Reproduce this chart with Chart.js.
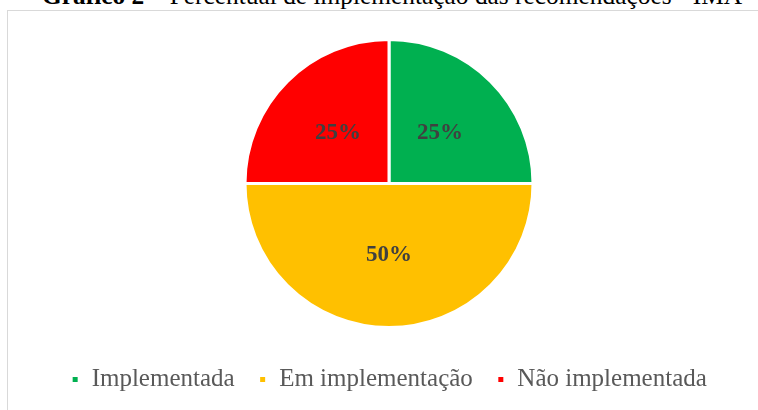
<!DOCTYPE html>
<html>
<head>
<meta charset="utf-8">
<script src="https://cdn.jsdelivr.net/npm/chart.js@4"></script>
<style>
  html, body { margin: 0; padding: 0; background: #fff; overflow: hidden; }
  #wrap { position: relative; width: 758px; height: 410px; }
  #title {
    position: absolute; left: 42px; top: -19px; white-space: nowrap;
    font-family: "Liberation Serif", serif; font-size: 25.4px; color: #000;
  }
  #frame {
    position: absolute; left: 7px; top: 10px; width: 760px; height: 410px;
    border: 1px solid #d9d9d9; box-sizing: border-box;
  }
  #pie-chart { position: absolute; left: 0; top: 0; }
</style>
</head>
<body>
<div id="wrap">
  <div id="title"><b>Gráfico 2</b> – Percentual de implementação das recomendações - IMA</div>
  <div id="frame"></div>
  <canvas id="pie-chart" width="758" height="410"></canvas>
</div>
<script>
const categories = ["Implementada", "Em implementação", "Não implementada"];
const shares = [25, 50, 25];
const sliceColors = ['#00B050', '#FFC000', '#FF0000'];

const pieCanvas = document.getElementById("pie-chart");

// percentage labels in the middle of each slice
const sliceLabels = {
  id: 'sliceLabels',
  afterDatasetsDraw(chart) {
    const ctx = chart.ctx;
    const meta = chart.getDatasetMeta(0);
    ctx.save();
    ctx.font = 'bold 23px "Liberation Serif", serif';
    ctx.fillStyle = '#404040';
    ctx.textAlign = 'center';
    ctx.textBaseline = 'middle';
    meta.data.forEach((arc, i) => {
      const pos = arc.tooltipPosition();
      ctx.fillText(shares[i] + '%', pos.x, pos.y);
    });
    ctx.restore();
  }
};

let pieChart = new Chart(pieCanvas, {
  type: 'pie',
  data: {
    labels: categories,
    datasets: [{
      data: shares,
      backgroundColor: sliceColors,
      borderColor: '#ffffff',
      borderWidth: 3,
      radius: 144
    }]
  },
  options: {
    responsive: false,
    animation: false,
    layout: {
      padding: { top: 24, bottom: 8, left: 20, right: 0 }
    },
    plugins: {
      legend: {
        position: 'bottom',
        labels: {
          boxWidth: 8,
          boxHeight: 8,
          padding: 24,
          color: '#595959',
          font: { family: '"Liberation Serif", serif', size: 25 }
        }
      },
      tooltip: { enabled: false }
    }
  },
  plugins: [sliceLabels]
});
</script>
</body>
</html>
